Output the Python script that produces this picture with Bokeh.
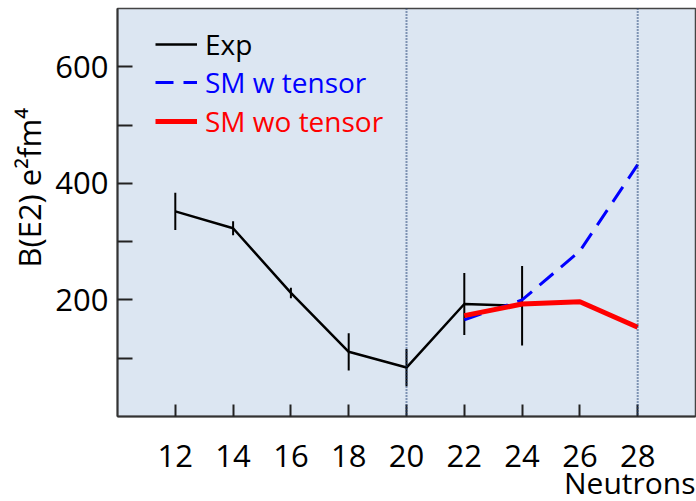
from bokeh.plotting import figure
from bokeh.models import (Range1d, FixedTicker, Span, Legend, LegendItem, Title,
                          ColumnDataSource)
from bokeh.embed import file_html
from bokeh.resources import INLINE

# ---- data ----
exp_n = [12, 14, 16, 18, 20, 22, 24]
exp_be2 = [352, 323, 212, 111, 84, 193, 190]
exp_err = [32, 12, 9, 32, 32, 53, 68]

sm_n = [22, 24, 26, 28]
sm_w_tensor = [166, 200, 284, 432]
sm_wo_tensor = [173, 193, 197, 153]

x_ticks = [12, 14, 16, 18, 20, 22, 24, 26, 28]
y_ticks = [100, 200, 300, 400, 500, 600]
y_labelled = [200, 400, 600]
shell_closures = [20, 28]

FONT = "Open Sans"

p = figure(width=696, height=501, output_backend="svg", toolbar_location=None,
           x_range=Range1d(10, 30), y_range=Range1d(0, 700),
           min_border_left=117, min_border_right=1, min_border_top=8,
           min_border_bottom=85)
p.background_fill_color = "#DCE6F2"
p.border_fill_color = "white"
p.outline_line_color = "#444444"
p.outline_line_width = 1.5
p.xgrid.visible = False
p.ygrid.visible = False

# axes
p.xaxis.ticker = FixedTicker(ticks=x_ticks)
p.yaxis.ticker = FixedTicker(ticks=y_ticks)
p.yaxis.major_label_overrides = {t: (str(t) if t in y_labelled else "") for t in y_ticks}
for ax in (p.xaxis[0], p.yaxis[0]):
    ax.major_tick_out = 0
    ax.minor_tick_out = 0
    ax.minor_tick_in = 0
    ax.major_tick_line_color = "#222222"
    ax.major_tick_line_width = 2
    ax.axis_line_color = "#333333"
    ax.axis_line_width = 2
    ax.major_label_text_font = FONT
    ax.major_label_text_font_size = "31px"
    ax.major_label_text_color = "black"
p.xaxis.major_tick_in = 12
p.yaxis.major_tick_in = 15
p.xaxis.major_label_standoff = 28
p.yaxis.major_label_standoff = 9

p.add_layout(Title(text="B(E2) e\u00b2fm\u2074", align="left", offset=149,
                   text_font=FONT, text_font_size="31px",
                   text_font_style="normal", text_color="black", standoff=6),
             "left")
p.add_layout(Title(text="Neutrons", align="right", text_font=FONT,
                   text_font_size="30px", text_font_style="normal",
                   text_color="black", standoff=-20), "below")

# shell-closure lines
for n in shell_closures:
    p.add_layout(Span(location=n, dimension="height", line_color="#1F3F73",
                      line_width=2, line_dash="1 2"))

# experimental data with error bars
src = ColumnDataSource(dict(
    x=exp_n, y=exp_be2,
    lo=[v - e for v, e in zip(exp_be2, exp_err)],
    hi=[v + e for v, e in zip(exp_be2, exp_err)]))
p.segment(x0="x", y0="lo", x1="x", y1="hi", source=src, line_color="black",
          line_width=2)
r_exp = p.line("x", "y", source=src, line_color="black", line_width=2.5)

r_w = p.line(sm_n, sm_w_tensor, line_color="#0000FF", line_width=3,
             line_dash="18 10")
r_wo = p.line(sm_n, sm_wo_tensor, line_color="#FF0000", line_width=5)

# legends (one per entry so each label keeps its own colour)
entries = [("Exp", r_exp, "black", 353),
           ("SM w tensor", r_w, "#0000FF", 315),
           ("SM wo tensor", r_wo, "#FF0000", 276)]
for label, r, col, ypos in entries:
    lg = Legend(items=[LegendItem(label=label, renderers=[r])],
                location=(38, ypos), padding=0, margin=0, spacing=0,
                glyph_width=42, glyph_height=30, label_height=30,
                label_standoff=8, border_line_color=None,
                background_fill_alpha=0, label_text_font=FONT,
                label_text_font_size="28px", label_text_color=col)
    p.add_layout(lg)

open("out.html", "w").write(file_html(p, INLINE))
